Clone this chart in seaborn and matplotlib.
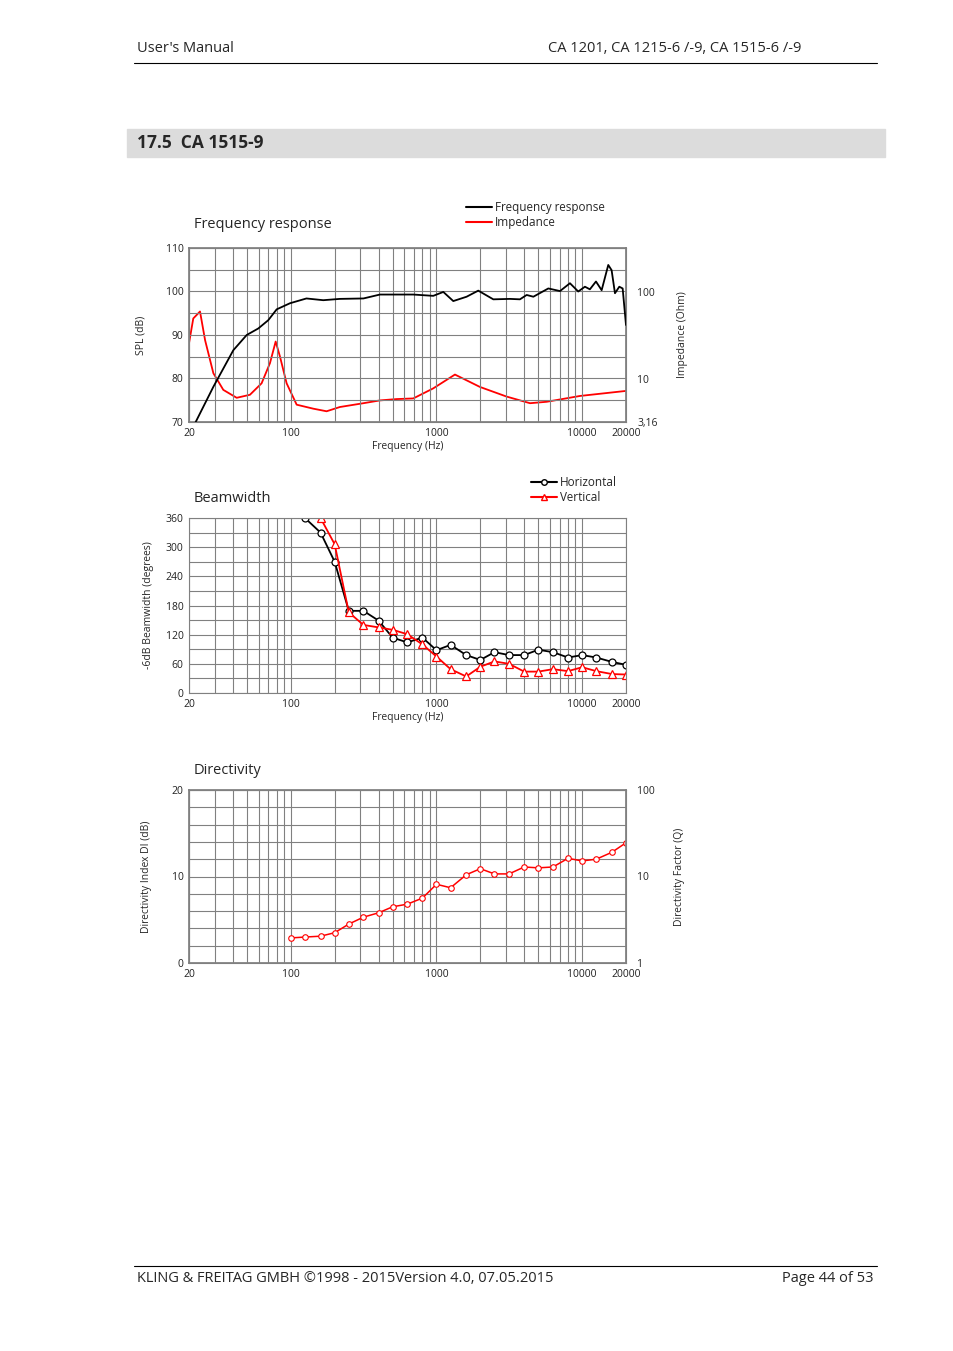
import matplotlib
matplotlib.use("Agg")
import matplotlib.pyplot as plt
import seaborn as sns
from matplotlib.lines import Line2D
from matplotlib.ticker import NullFormatter

sns.set_theme(style="white")
plt.rcParams["font.family"] = "Open Sans"

# ---- data ----
SPL_FREQ = [22, 29.4, 40.3, 49.8, 59.8, 70, 80, 98.7, 128, 167, 217, 315, 409, 693, 950, 1114,
            1304, 1610, 1936, 2455, 3193, 3741, 4160, 4624, 5858, 7046, 8247, 9400, 10450,
            11300, 12440, 13610, 15110, 15930, 16800, 17990, 18970, 20000]
SPL_DB = [69.7, 78.1, 86.5, 90.0, 91.5, 93.4, 95.9, 97.3, 98.4, 98.0, 98.3, 98.4, 99.3, 99.3,
          99.0, 99.9, 97.8, 98.8, 100.2, 98.2, 98.3, 98.2, 99.2, 98.8, 100.7, 100.1, 101.9,
          100.0, 101.1, 100.5, 102.3, 100.3, 106.1, 104.9, 99.6, 101.1, 100.7, 92.3]
IMP_FREQ = [20, 21.4, 23.8, 25.8, 29.4, 34.4, 42.5, 52.4, 63, 71.9, 78.7, 84.3, 93.6, 109.7,
            142.6, 176, 217, 315, 409, 532, 693, 950, 1339, 1987, 3027, 4385, 5705, 9660, 20000]
IMP_OHM = [25.4, 49, 58.9, 27.5, 11.5, 7.4, 6.0, 6.5, 8.8, 15, 26.6, 17.8, 8.8, 5.0, 4.5, 4.2,
           4.7, 5.2, 5.6, 5.8, 5.9, 7.7, 11.1, 8.0, 6.2, 5.2, 5.4, 6.3, 7.2]

BW_FREQ = [125, 160, 200, 250, 315, 400, 500, 630, 800, 1000, 1250, 1600, 2000, 2500, 3150,
           4000, 5000, 6300, 8000, 10000, 12500, 16000, 20000]
BW_HORIZ = [360, 330, 270, 169, 169, 149, 114, 104, 114, 88, 99, 78, 68, 84, 78, 78, 89, 84,
            73, 78, 73, 64, 58]
BW_VERT = [None, 360, 306, 166, 140, 135, 130, 121, 100, 75, 49, 34, 54, 65, 60, 44, 44, 49,
           45, 53, 45, 39, 38]

DI_FREQ = [100, 125, 160, 200, 250, 315, 400, 500, 630, 800, 1000, 1250, 1600, 2000, 2500,
           3150, 4000, 5000, 6300, 8000, 10000, 12500, 16000, 20000]
DI_DB = [2.9, 3.0, 3.1, 3.5, 4.5, 5.3, 5.8, 6.5, 6.8, 7.5, 9.1, 8.7, 10.2, 10.9, 10.3, 10.3,
         11.1, 11.0, 11.1, 12.1, 11.8, 12.0, 12.8, 13.9]

X_TICKS = [20, 100, 1000, 10000, 20000]
GRID = "#808080"
RED = "#ff0000"
W, H = 954, 1351


def rect(l, t, r, b):
    return [l / W, 1 - b / H, (r - l) / W, (b - t) / H]


def style_freq_axis(ax, xlabel=True):
    ax.set_xscale("log")
    ax.set_xlim(20, 20000)
    ax.set_xticks(X_TICKS)
    ax.set_xticklabels([str(t) for t in X_TICKS])
    ax.xaxis.set_minor_formatter(NullFormatter())
    ax.grid(True, which="both", axis="x", color=GRID, lw=0.8)
    ax.grid(True, which="major", axis="y", color=GRID, lw=0.8)
    ax.tick_params(which="both", length=0, labelsize=7.5, pad=4, colors="#222222")
    for s in ax.spines.values():
        s.set_color(GRID)
        s.set_linewidth(0.8)
    if xlabel:
        ax.set_xlabel("Frequency (Hz)", fontsize=7.5, labelpad=2)
    else:
        ax.set_xlabel("")


fig = plt.figure(figsize=(W / 100, H / 100), dpi=100)

# page decoration
fig.text(137 / W, 1 - 49 / H, "User's Manual", fontsize=10.5, va="center")
fig.text(801 / W, 1 - 49 / H, "CA 1201, CA 1215-6 /-9, CA 1515-6 /-9", fontsize=10.5,
         va="center", ha="right")
fig.add_artist(Line2D([134 / W, 877 / W], [1 - 63 / H] * 2, color="black", lw=0.8))
fig.patches.append(plt.Rectangle((127 / W, 1 - 157 / H), 758 / W, 28 / H,
                                 transform=fig.transFigure, color="#dcdcdc", zorder=0))
fig.text(137 / W, 1 - 143 / H, "17.5  CA 1515-9", fontsize=12.5, fontweight="bold", va="center")
fig.add_artist(Line2D([134 / W, 877 / W], [1 - 1266 / H] * 2, color="black", lw=0.8))
fig.text(137 / W, 1 - 1279 / H, "KLING & FREITAG GMBH ©1998 - 2015Version 4.0, 07.05.2015",
         fontsize=10.5, va="center")
fig.text(874 / W, 1 - 1279 / H, "Page 44 of 53", fontsize=10.5, va="center", ha="right")

# ---- chart 1: frequency response ----
ax1 = fig.add_axes(rect(189, 248, 626, 422))
sns.lineplot(x=SPL_FREQ, y=SPL_DB, ax=ax1, color="black", lw=1.3)
style_freq_axis(ax1)
ax1.set_ylim(70, 110)
ax1.set_yticks(range(70, 111, 5))
ax1.set_yticklabels([str(v) if v % 10 == 0 else "" for v in range(70, 111, 5)])
ax1.set_ylabel("SPL (dB)", fontsize=7.5, labelpad=14)
ax1b = ax1.twinx()
sns.lineplot(x=IMP_FREQ, y=IMP_OHM, ax=ax1b, color=RED, lw=1.3)
ax1b.set_yscale("log")
ax1b.set_ylim(3.1623, 316.23)
ax1b.set_yticks([3.1623, 10, 100])
ax1b.set_yticklabels(["3,16", "10", "100"])
ax1b.yaxis.set_minor_formatter(NullFormatter())
ax1b.tick_params(which="both", length=0, labelsize=7.5, pad=8)
ax1b.set_ylabel("Impedance (Ohm)", fontsize=7.5, labelpad=14)
for s in ax1b.spines.values():
    s.set_color(GRID)
ax1.set_zorder(ax1b.get_zorder() + 1)
ax1.patch.set_visible(False)
fig.text(194 / W, 1 - 224 / H, "Frequency response", fontsize=10.5, va="center")
ax1.legend(handles=[Line2D([], [], color="black", lw=1.5, label="Frequency response"),
                    Line2D([], [], color=RED, lw=1.5, label="Impedance")],
           loc="lower left", bbox_to_anchor=(455 / W, 1 - 240 / H), bbox_transform=fig.transFigure,
           frameon=False, fontsize=8.5, handlelength=2.2, handletextpad=0.3, labelspacing=0.2)

# ---- chart 2: beamwidth ----
ax2 = fig.add_axes(rect(189, 518, 626, 693))
sns.lineplot(x=BW_FREQ, y=BW_HORIZ, ax=ax2, color="black", lw=1.3, marker="o",
             markersize=5, markerfacecolor="white", markeredgecolor="black", markeredgewidth=0.9)
vf = [f for f, v in zip(BW_FREQ, BW_VERT) if v is not None]
vv = [v for v in BW_VERT if v is not None]
sns.lineplot(x=vf, y=vv, ax=ax2, color=RED, lw=1.3, marker="^", markersize=5.5,
             markerfacecolor="white", markeredgecolor=RED, markeredgewidth=0.9)
style_freq_axis(ax2)
ax2.set_ylim(0, 360)
ax2.set_yticks(range(0, 361, 30))
ax2.set_yticklabels([str(v) if v % 60 == 0 else "" for v in range(0, 361, 30)])
ax2.set_ylabel("-6dB Beamwidth (degrees)", fontsize=7.5, labelpad=8)
fig.text(194 / W, 1 - 499 / H, "Beamwidth", fontsize=10.5, va="center")
ax2.legend(handles=[Line2D([], [], color="black", lw=1.5, marker="o", markersize=4,
                           markerfacecolor="white", label="Horizontal"),
                    Line2D([], [], color=RED, lw=1.5, marker="^", markersize=4.5,
                           markerfacecolor="white", label="Vertical")],
           loc="lower left", bbox_to_anchor=(520 / W, 1 - 515 / H), bbox_transform=fig.transFigure,
           frameon=False, fontsize=8.5, handlelength=2.2, handletextpad=0.3, labelspacing=0.2,
           numpoints=1)

# ---- chart 3: directivity ----
ax3 = fig.add_axes(rect(189, 790, 626, 963))
sns.lineplot(x=DI_FREQ, y=DI_DB, ax=ax3, color=RED, lw=1.1, marker="o", markersize=4,
             markerfacecolor="white", markeredgecolor=RED, markeredgewidth=0.8)
style_freq_axis(ax3, xlabel=False)
ax3.set_ylim(0, 20)
ax3.set_yticks(range(0, 21, 2))
ax3.set_yticklabels([str(v) if v % 10 == 0 else "" for v in range(0, 21, 2)])
ax3.set_ylabel("Directivity Index DI (dB)", fontsize=7.5, labelpad=14)
ax3b = ax3.twinx()
ax3b.set_yscale("log")
ax3b.set_ylim(1, 100)
ax3b.set_yticks([1, 10, 100])
ax3b.set_yticklabels(["1", "10", "100"])
ax3b.yaxis.set_minor_formatter(NullFormatter())
ax3b.tick_params(which="both", length=0, labelsize=7.5, pad=8)
ax3b.set_ylabel("Directivity Factor (Q)", fontsize=7.5, labelpad=14)
for s in ax3b.spines.values():
    s.set_color(GRID)
fig.text(194 / W, 1 - 771 / H, "Directivity", fontsize=10.5, va="center")

fig.savefig("out.png", dpi=100)
